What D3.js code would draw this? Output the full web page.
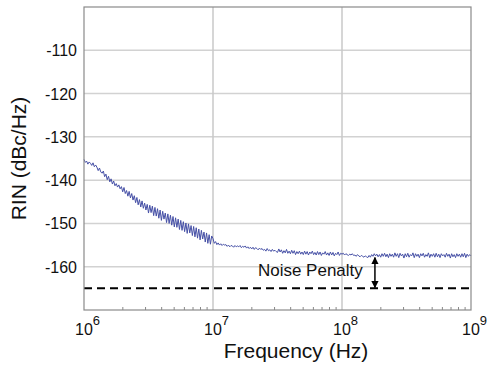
<!DOCTYPE html>
<html>
<head>
<meta charset="utf-8">
<script src="https://cdn.jsdelivr.net/npm/d3@7"></script>
<style>
  body { margin: 0; background: #fff; }
  text { font-family: "Liberation Sans", Arial, sans-serif; fill: #111; }
</style>
</head>
<body>
<div id="chart"></div>
<script>
// RIN trace, sampled every 0.01 decade from 1 MHz to 1 GHz (dBc/Hz)
const rin = [
  -135.2, -135.9, -135.6, -136.3, -135.8, -136.1, -136.6, -136.0, -136.9, -136.5,
  -137.0, -137.8, -137.2, -138.1, -138.4, -137.9, -139.2, -138.6, -139.9, -139.1,
  -140.4, -139.7, -140.9, -140.2, -141.3, -140.8, -141.6, -141.1, -142.0, -141.5,
  -142.7, -141.7, -143.1, -142.4, -143.7, -142.6, -144.1, -143.1, -144.6, -143.6,
  -145.2, -144.0, -145.7, -144.5, -146.2, -144.8, -146.5, -145.3, -146.9, -145.6,
  -147.6, -145.8, -147.5, -146.0, -148.2, -146.3, -148.3, -146.6, -148.8, -146.9,
  -149.3, -147.2, -149.0, -147.6, -149.8, -147.8, -150.0, -148.1, -150.4, -148.4,
  -150.8, -148.7, -150.9, -149.0, -151.4, -149.3, -151.6, -149.6, -151.9, -149.9,
  -152.3, -150.1, -152.2, -150.5, -152.8, -150.7, -153.1, -151.0, -153.4, -151.3,
  -153.8, -151.6, -153.6, -152.0, -154.3, -152.2, -154.6, -152.6, -154.8, -152.9,
  -153.5, -154.6, -154.2, -154.9, -154.5, -155.0, -154.7, -155.1, -154.8, -155.0,
  -154.9, -155.3, -155.0, -155.4, -155.1, -155.2, -155.5, -155.1, -155.4, -155.2,
  -155.4, -155.1, -155.6, -155.3, -155.5, -155.2, -155.7, -155.4, -155.8, -155.5,
  -155.9, -155.5, -156.0, -155.6, -155.8, -156.1, -155.7, -156.0, -155.8, -156.2,
  -156.0, -156.4, -155.8, -156.3, -156.1, -156.5, -156.0, -156.4, -156.2, -156.5,
  -156.7, -155.9, -156.6, -156.1, -156.9, -156.3, -156.8, -156.0, -156.9, -156.4,
  -157.0, -156.2, -156.9, -156.3, -157.2, -156.5, -157.0, -156.4, -157.1, -156.6,
  -157.2, -156.4, -157.1, -156.5, -157.3, -156.6, -157.0, -156.4, -157.2, -156.7,
  -157.3, -156.5, -157.2, -156.6, -157.4, -156.8, -157.1, -156.5, -157.3, -156.8,
  -157.4, -156.6, -157.3, -156.7, -157.5, -156.9, -157.2, -156.6, -157.4, -156.9,
  -157.1, -156.9, -157.3, -157.0, -157.2, -157.4, -157.1, -157.3, -157.0, -157.4,
  -157.3, -157.6, -157.2, -157.5, -157.7, -157.4, -157.6, -157.8, -157.5, -157.7,
  -157.9, -157.4, -157.8, -157.2, -157.6, -157.0, -157.5, -157.1, -157.7, -157.2,
  -157.8, -157.0, -157.6, -156.9, -157.7, -157.1, -157.9, -157.0, -157.6, -157.1,
  -157.8, -156.8, -157.6, -157.0, -157.9, -156.9, -157.5, -157.1, -158.0, -157.0,
  -157.7, -156.9, -157.8, -157.2, -157.5, -156.8, -157.9, -157.0, -157.6, -157.1,
  -157.9, -157.0, -157.5, -156.9, -157.8, -157.2, -157.6, -156.8, -157.9, -157.1,
  -157.6, -157.0, -157.8, -156.9, -157.7, -157.1, -157.9, -157.0, -157.5, -157.2,
  -157.8, -156.9, -157.6, -157.1, -158.0, -157.0, -157.7, -157.2, -157.9, -157.0,
  -157.6, -157.1, -157.8, -157.0, -157.7, -156.9, -157.9, -157.1, -157.6, -157.2,
  -157.5
];
const startExp = 6, stepExp = 0.01;

const yTicks = [-160, -150, -140, -130, -120, -110];
const xDecades = [6, 7, 8, 9];
const floorLevel = -165;          // dashed reference line
const penaltyFreq = 1.8e8;        // arrow position
const penaltyTop = -157.9, penaltyBottom = -164.8;
const penaltyLabel = 'Noise Penalty';

const width = 488, height = 371;
const margin = { top: 7, right: 17, bottom: 61, left: 84 };

const svg = d3.select('#chart').append('svg')
  .attr('width', width).attr('height', height);

const x = d3.scaleLog().domain([1e6, 1e9]).range([margin.left, width - margin.right]);
const y = d3.scaleLinear().domain([-170, -100]).range([height - margin.bottom, margin.top]);

const defs = svg.append('defs');
defs.append('marker').attr('id', 'ah').attr('viewBox', '0 0 10 10')
  .attr('refX', 9).attr('refY', 5).attr('markerWidth', 5).attr('markerHeight', 6)
  .attr('orient', 'auto-start-reverse')
  .append('path').attr('d', 'M0,0 L10,5 L0,10 z').attr('fill', '#000');

// grid
svg.append('g').selectAll('line').data(yTicks).join('line')
  .attr('x1', x.range()[0]).attr('x2', x.range()[1])
  .attr('y1', d => y(d)).attr('y2', d => y(d))
  .attr('stroke', '#d2d2d2').attr('stroke-width', 1.5);
svg.append('g').selectAll('line').data([7, 8]).join('line')
  .attr('x1', d => x(Math.pow(10, d))).attr('x2', d => x(Math.pow(10, d)))
  .attr('y1', y.range()[0]).attr('y2', y.range()[1])
  .attr('stroke', '#c8c8c8').attr('stroke-width', 1.5);

// minor ticks on bottom axis
const minor = [];
for (let e = 6; e < 9; e++) for (let m = 2; m <= 9; m++) minor.push(m * Math.pow(10, e));
svg.append('g').selectAll('line').data(minor).join('line')
  .attr('x1', d => x(d)).attr('x2', d => x(d))
  .attr('y1', y.range()[0]).attr('y2', y.range()[0] - 3)
  .attr('stroke', '#888').attr('stroke-width', 1);

// trace
const line = d3.line()
  .x((d, i) => x(Math.pow(10, startExp + i * stepExp)))
  .y(d => y(d));
svg.append('path').datum(rin)
  .attr('d', line)
  .attr('fill', 'none')
  .attr('stroke', '#4650a6')
  .attr('stroke-width', 1)
  .attr('stroke-linejoin', 'round');

// dashed floor
svg.append('line')
  .attr('x1', x.range()[0]).attr('x2', x.range()[1])
  .attr('y1', y(floorLevel)).attr('y2', y(floorLevel))
  .attr('stroke', '#000').attr('stroke-width', 2)
  .attr('stroke-dasharray', '8,5');

// noise penalty arrow
svg.append('line')
  .attr('x1', x(penaltyFreq)).attr('x2', x(penaltyFreq))
  .attr('y1', y(penaltyTop)).attr('y2', y(penaltyBottom))
  .attr('stroke', '#000').attr('stroke-width', 1.5)
  .attr('marker-start', 'url(#ah)').attr('marker-end', 'url(#ah)');
svg.append('text')
  .attr('x', x(penaltyFreq) - 117).attr('y', y(-162.2))
  .style('font-size', '17px')
  .text(penaltyLabel);

// frame
svg.append('rect')
  .attr('x', x.range()[0]).attr('y', y.range()[1])
  .attr('width', x.range()[1] - x.range()[0])
  .attr('height', y.range()[0] - y.range()[1])
  .attr('fill', 'none').attr('stroke', '#8a8a8a').attr('stroke-width', 1.2);

// y tick labels
svg.append('g').selectAll('text').data(yTicks).join('text')
  .attr('x', margin.left - 7).attr('y', d => y(d) + 6)
  .attr('text-anchor', 'end')
  .style('font-size', '16px')
  .text(d => d);

// x tick labels 10^n
const xl = svg.append('g').selectAll('text').data(xDecades).join('text')
  .attr('x', d => x(Math.pow(10, d)) - 9)
  .attr('y', height - margin.bottom + 25)
  .style('font-size', '16px');
xl.append('tspan').text('10');
xl.append('tspan').attr('dy', -10).style('font-size', '13px').text(d => d);

// axis titles
svg.append('text')
  .attr('x', 296)
  .attr('y', height - 13)
  .attr('text-anchor', 'middle')
  .style('font-size', '21px')
  .text('Frequency (Hz)');
svg.append('text')
  .attr('transform', `translate(26, ${(y.range()[0] + y.range()[1]) / 2}) rotate(-90)`)
  .attr('text-anchor', 'middle')
  .style('font-size', '21px')
  .text('RIN (dBc/Hz)');
</script>
</body>
</html>
